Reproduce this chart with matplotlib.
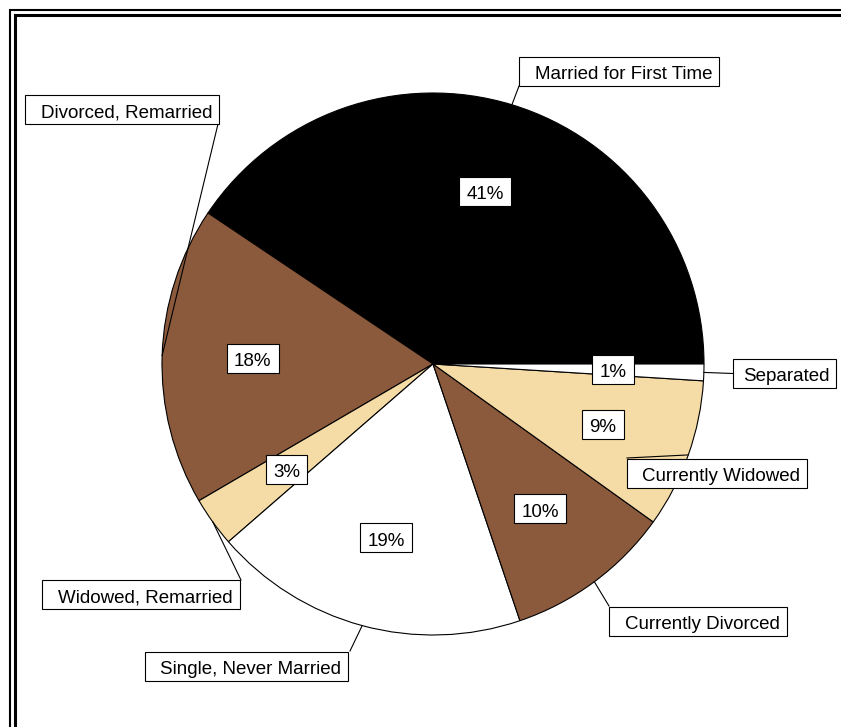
import matplotlib
matplotlib.use("Agg")
import numpy as np
import matplotlib.pyplot as plt
from matplotlib.path import Path
from matplotlib.lines import Line2D

plt.rcParams["font.family"] = ["Liberation Sans", "DejaVu Sans"]

# Marital status shares (percent)
categories = ["Married for First Time", "Divorced, Remarried", "Widowed, Remarried",
              "Single, Never Married", "Currently Divorced", "Currently Widowed", "Separated"]
shares = [41, 18, 3, 19, 10, 9, 1]
slice_colors = ["#000000", "#8B5A3C", "#F5DBA5", "#FFFFFF", "#8B5A3C", "#F5DBA5", "#FFFFFF"]

W, H, DPI = 841, 727, 100
CX, CY, R = 433, 364, 271          # pie centre and radius, in pixels
FONT = 13.5
EM = FONT * DPI / 72               # font size in pixels
PAD_TOP, PAD_BOTTOM = 0.5, 0.14    # vertical frame padding (em)
SHIFT = (PAD_TOP - PAD_BOTTOM) / 2 * EM   # text offset that keeps frames centred

# Category label layout in pixels:
# frame left edge, text left edge, frame centre line, leader attachment point
label_layout = {
    "Married for First Time": (519, 535, 71.5, (519, 86)),
    "Divorced, Remarried":    (25, 41, 109.5, (218, 124)),
    "Widowed, Remarried":     (42, 58, 594.5, (241, 580)),
    "Single, Never Married":   (145, 160, 666, (350, 651)),
    "Currently Divorced":     (609, 625, 621, (609, 606)),
    "Currently Widowed":      (627, 642, 473, (627, 458)),
    "Separated":              (733, 743, 373.5, (733, 373.5)),
}


def px(x, y):
    """Pixel position (from top-left) to data units of the pie axes."""
    return (x - CX) / R, (CY - y) / R


def framed(left, right, top=PAD_TOP, bottom=PAD_BOTTOM):
    """Rectangular label frame with separate paddings (in em)."""
    def style(x0, y0, width, height, mutation_size):
        m = mutation_size
        xa, xb = x0 - left * m, x0 + width + right * m
        ya, yb = y0 - bottom * m, y0 + height + top * m
        return Path([(xa, ya), (xb, ya), (xb, yb), (xa, yb), (xa, ya)], closed=True)
    return style


fig = plt.figure(figsize=(W / DPI, H / DPI), dpi=DPI)
fig.patch.set_facecolor("white")
ax = fig.add_axes([0, 0, 1, 1])

wedges, _, autotexts = ax.pie(
    shares, colors=slice_colors, startangle=0, counterclock=True, radius=1,
    autopct=lambda p: f"{p:.0f}%", pctdistance=0.665,
    wedgeprops=dict(edgecolor="black", linewidth=0.8),
    textprops=dict(fontsize=FONT, color="black"))

for t in autotexts:
    x, y = t.get_position()
    t.set_position((x, y - SHIFT / R))
    t.set_bbox(dict(boxstyle=framed(0.39, 0.39), facecolor="white",
                    edgecolor="black", linewidth=0.8))
    t.set_zorder(4)

# Category labels with leader lines from the middle of each slice's rim
for w, name in zip(wedges, categories):
    bx, tx, ty, (ax_px, ay_px) = label_layout[name]
    mid = np.deg2rad((w.theta1 + w.theta2) / 2)
    ex, ey = np.cos(mid) * w.r, np.sin(mid) * w.r
    lx, ly = px(ax_px, ay_px)
    ax.add_line(Line2D([ex, lx], [ey, ly], color="black", linewidth=0.8, zorder=2))
    x, y = px(tx, ty + SHIFT)
    ax.text(x, y, name, fontsize=FONT, ha="left", va="center", zorder=5,
            bbox=dict(boxstyle=framed((tx - bx) / EM, 0.37), facecolor="white",
                      edgecolor="black", linewidth=0.8))

ax.set_xlim(-CX / R, (W - CX) / R)
ax.set_ylim((CY - H) / R, CY / R)
ax.set_aspect("auto")
ax.axis("off")

# Double frame along the top and left edges
for off, lw in [(10, 1.5), (14.5, 2.2)]:
    fig.add_artist(Line2D([off / W, off / W, 1.05], [-0.05, 1 - off / H, 1 - off / H],
                          transform=fig.transFigure, color="black", linewidth=lw,
                          solid_joinstyle="miter"))

fig.savefig("out.png", dpi=DPI, facecolor="white")
